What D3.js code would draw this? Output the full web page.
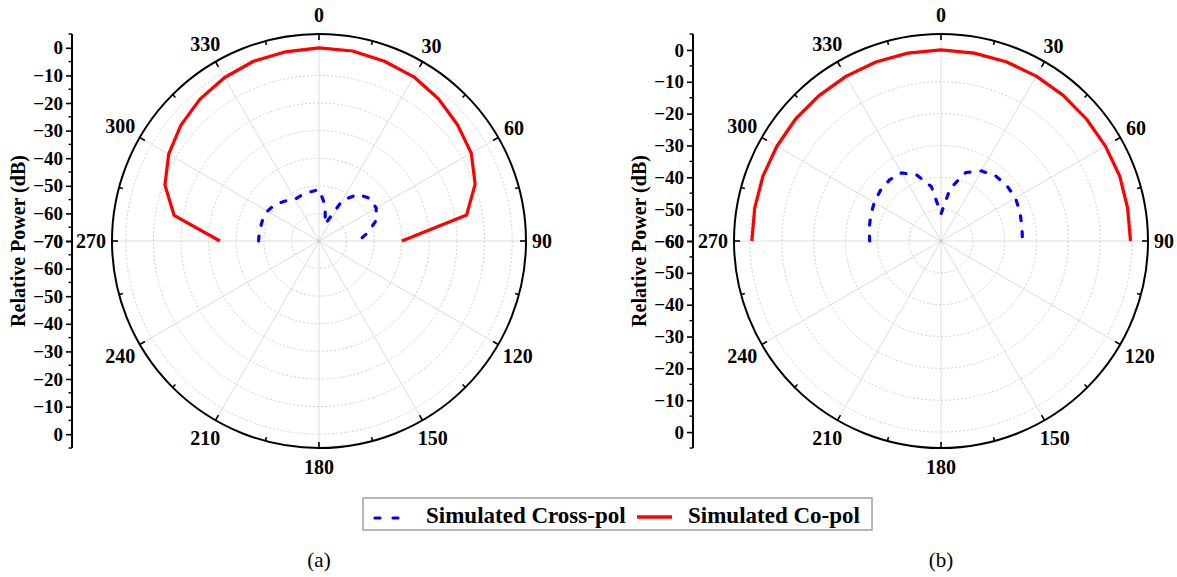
<!DOCTYPE html>
<html>
<head>
<meta charset="utf-8">
<script src="https://cdn.jsdelivr.net/npm/d3@7"></script>
<style>
  html, body { margin: 0; padding: 0; background: #ffffff; }
  svg { display: block; }
</style>
</head>
<body>
<svg id="chart" width="1177" height="577"></svg>
<script>
// Azimuth angles (degrees, clockwise from top) at which both patterns are sampled
const angles = [270, 280, 290, 300, 310, 320, 330, 340, 350, 0, 10, 20, 30, 40, 50, 60, 70, 80, 90];

// (a) relative power in dB
const coPolA    = [-34.1, -16.7, -10.6, -7.1, -4.7, -2.9, -1.6, -0.7, -0.4, 0, -0.1, -0.7, -1.3, -2.7, -4.5, -6.3, -9.8, -15.7, -40.0];
const crossPolA = [-48.1, -48.1, -48.2, -48.4, -49.3, -51.1, -52.5, -52.2, -51.9, -51.4, -56.9, -63.5, -53.0, -47.9, -46.0, -46.1, -47.9, -51.9, -55.7];

// (b) relative power in dB
const coPolB    = [-0.6, -0.6, -0.5, -0.5, -0.4, -0.4, -0.3, -0.2, -0.1, 0, -0.1, -0.1, -0.2, -0.3, -0.4, -0.4, -0.3, -0.5, -0.5];
const crossPolB = [-37.6, -37.1, -36.5, -35.8, -35.2, -34.9, -35.3, -38.0, -42.7, -51.5, -43.2, -37.1, -34.6, -33.3, -33.0, -33.0, -33.6, -34.2, -34.4];

// Radial axis tick labels for each panel
const radialTicksA = [0, -10, -20, -30, -40, -50, -60, -70];
const radialTicksB = [0, -10, -20, -30, -40, -50, -60];
const angleTicks = [0, 30, 60, 90, 120, 150, 180, 210, 240, 270, 300, 330];

const seriesNames = ["Simulated Cross-pol", "Simulated Co-pol"];
const captions = ["(a)", "(b)"];

const FONT = "'Liberation Serif', 'Times New Roman', serif";
const svg = d3.select("#chart");
const R = 207;
const cy = 241;
const rad = d => d * Math.PI / 180;

function drawPanel(cx, minDb, radialTicks, coPol, crossPol, axisX, caption) {
  const g = svg.append("g");
  const r = d3.scaleLinear().domain([minDb, 5]).range([0, R]);

  // dotted rings every 10 dB
  const rings = d3.range(minDb + 10, 1, 10);
  g.selectAll("circle.ring").data(rings).join("circle")
    .attr("cx", cx).attr("cy", cy).attr("r", d => r(d))
    .attr("fill", "none").attr("stroke", "#d0d0d0").attr("stroke-width", 1)
    .attr("stroke-dasharray", "2,2");

  // spokes every 30 degrees
  g.selectAll("line.spoke").data(angleTicks).join("line")
    .attr("x1", cx).attr("y1", cy)
    .attr("x2", d => cx + R * Math.sin(rad(d)))
    .attr("y2", d => cy - R * Math.cos(rad(d)))
    .attr("stroke", "#dcdcdc").attr("stroke-width", 1);

  g.append("circle").attr("cx", cx).attr("cy", cy).attr("r", 1.5).attr("fill", "#c8c8c8");

  // outer ring with inward ticks
  g.append("circle").attr("cx", cx).attr("cy", cy).attr("r", R)
    .attr("fill", "none").attr("stroke", "#000").attr("stroke-width", 2);
  const angTicks = d3.range(0, 360, 15);
  g.selectAll("line.atick").data(angTicks).join("line")
    .attr("x1", d => cx + R * Math.sin(rad(d)))
    .attr("y1", d => cy - R * Math.cos(rad(d)))
    .attr("x2", d => cx + (R - (d % 30 === 0 ? 6 : 4)) * Math.sin(rad(d)))
    .attr("y2", d => cy - (R - (d % 30 === 0 ? 6 : 4)) * Math.cos(rad(d)))
    .attr("stroke", "#000").attr("stroke-width", 1.6);

  // angle labels
  g.selectAll("text.alab").data(angleTicks).join("text")
    .style("font-family", FONT).style("font-size", "20px").style("font-weight", "bold")
    .attr("text-anchor", "middle").attr("dominant-baseline", "central")
    .text(d => d)
    .each(function(d) {
      const w = this.getComputedTextLength();
      const s = Math.abs(Math.sin(rad(d))), c = Math.abs(Math.cos(rad(d)));
      const rr = R + 6 + (w / 2) * s + 7 * c + 6 * Math.pow(c, 12);
      d3.select(this)
        .attr("x", cx + rr * Math.sin(rad(d)))
        .attr("y", cy - rr * Math.cos(rad(d)));
    });

  // patterns
  const line = d3.lineRadial().angle(d => rad(d[0])).radius(d => r(d[1]));
  g.append("path")
    .datum(angles.map((a, i) => [a, crossPol[i]]))
    .attr("transform", `translate(${cx},${cy})`)
    .attr("d", line)
    .attr("fill", "none").attr("stroke", "#0000ff").attr("stroke-width", 3.2)
    .attr("stroke-linecap", "round").attr("stroke-dasharray", "5,11");
  g.append("path")
    .datum(angles.map((a, i) => [a, coPol[i]]))
    .attr("transform", `translate(${cx},${cy})`)
    .attr("d", line)
    .attr("fill", "none").attr("stroke", "#ff0000").attr("stroke-width", 3.2)
    .attr("stroke-linejoin", "round");

  // mirrored linear radial axis on the left
  const yTop = d3.scaleLinear().domain([minDb, 5]).range([cy, cy - R]);
  const yBot = d3.scaleLinear().domain([minDb, 5]).range([cy, cy + R]);
  const minors = d3.range(minDb, 5.01, 5);
  [yTop, yBot].forEach(sc => {
    const ax = g.append("g").attr("transform", `translate(${axisX},0)`)
      .call(d3.axisLeft(sc).tickValues(radialTicks).tickSize(6).tickPadding(3).tickFormat(d3.format("d")));
    ax.attr("font-family", null).attr("font-size", null);
    ax.select(".domain").remove();
    ax.selectAll(".tick line").attr("stroke", "#000").attr("stroke-width", 1.6);
    ax.selectAll(".tick text")
      .style("font-family", FONT).style("font-size", "19px").style("font-weight", "bold")
      .attr("fill", "#000");
    g.selectAll(null).data(minors.filter(v => radialTicks.indexOf(v) < 0)).enter().append("line")
      .attr("x1", axisX).attr("x2", axisX - 3.5)
      .attr("y1", d => sc(d)).attr("y2", d => sc(d))
      .attr("stroke", "#000").attr("stroke-width", 1.4);
  });
  g.append("line").attr("x1", axisX).attr("x2", axisX)
    .attr("y1", cy - R).attr("y2", cy + R)
    .attr("stroke", "#000").attr("stroke-width", 2);

  g.append("text")
    .attr("transform", `translate(${axisX - 54},${cy}) rotate(-90)`)
    .attr("text-anchor", "middle").attr("dominant-baseline", "central")
    .style("font-family", FONT).style("font-size", "20px").style("font-weight", "bold")
    .text("Relative Power (dB)");

  svg.append("text").attr("x", cx).attr("y", 567)
    .attr("text-anchor", "middle")
    .style("font-family", FONT).style("font-size", "21px")
    .text(caption);
}

drawPanel(319, -70, radialTicksA, coPolA, crossPolA, 72, captions[0]);
drawPanel(941, -60, radialTicksB, coPolB, crossPolB, 693, captions[1]);

// legend
const lg = svg.append("g");
lg.append("rect").attr("x", 363).attr("y", 498).attr("width", 509).attr("height", 32)
  .attr("fill", "#fff").attr("stroke", "#a0a0a0").attr("stroke-width", 1.5);
lg.append("line").attr("x1", 375).attr("x2", 399).attr("y1", 518).attr("y2", 518)
  .attr("stroke", "#0000ff").attr("stroke-width", 3.2).attr("stroke-linecap", "round")
  .attr("stroke-dasharray", "5,13");
lg.append("text").attr("x", 426).attr("y", 523)
  .style("font-family", FONT).style("font-size", "23px").style("font-weight", "bold")
  .text(seriesNames[0]);
lg.append("line").attr("x1", 637).attr("x2", 672).attr("y1", 517).attr("y2", 517)
  .attr("stroke", "#ff0000").attr("stroke-width", 3.4);
lg.append("text").attr("x", 688).attr("y", 523)
  .style("font-family", FONT).style("font-size", "23px").style("font-weight", "bold")
  .text(seriesNames[1]);
</script>
</body>
</html>
